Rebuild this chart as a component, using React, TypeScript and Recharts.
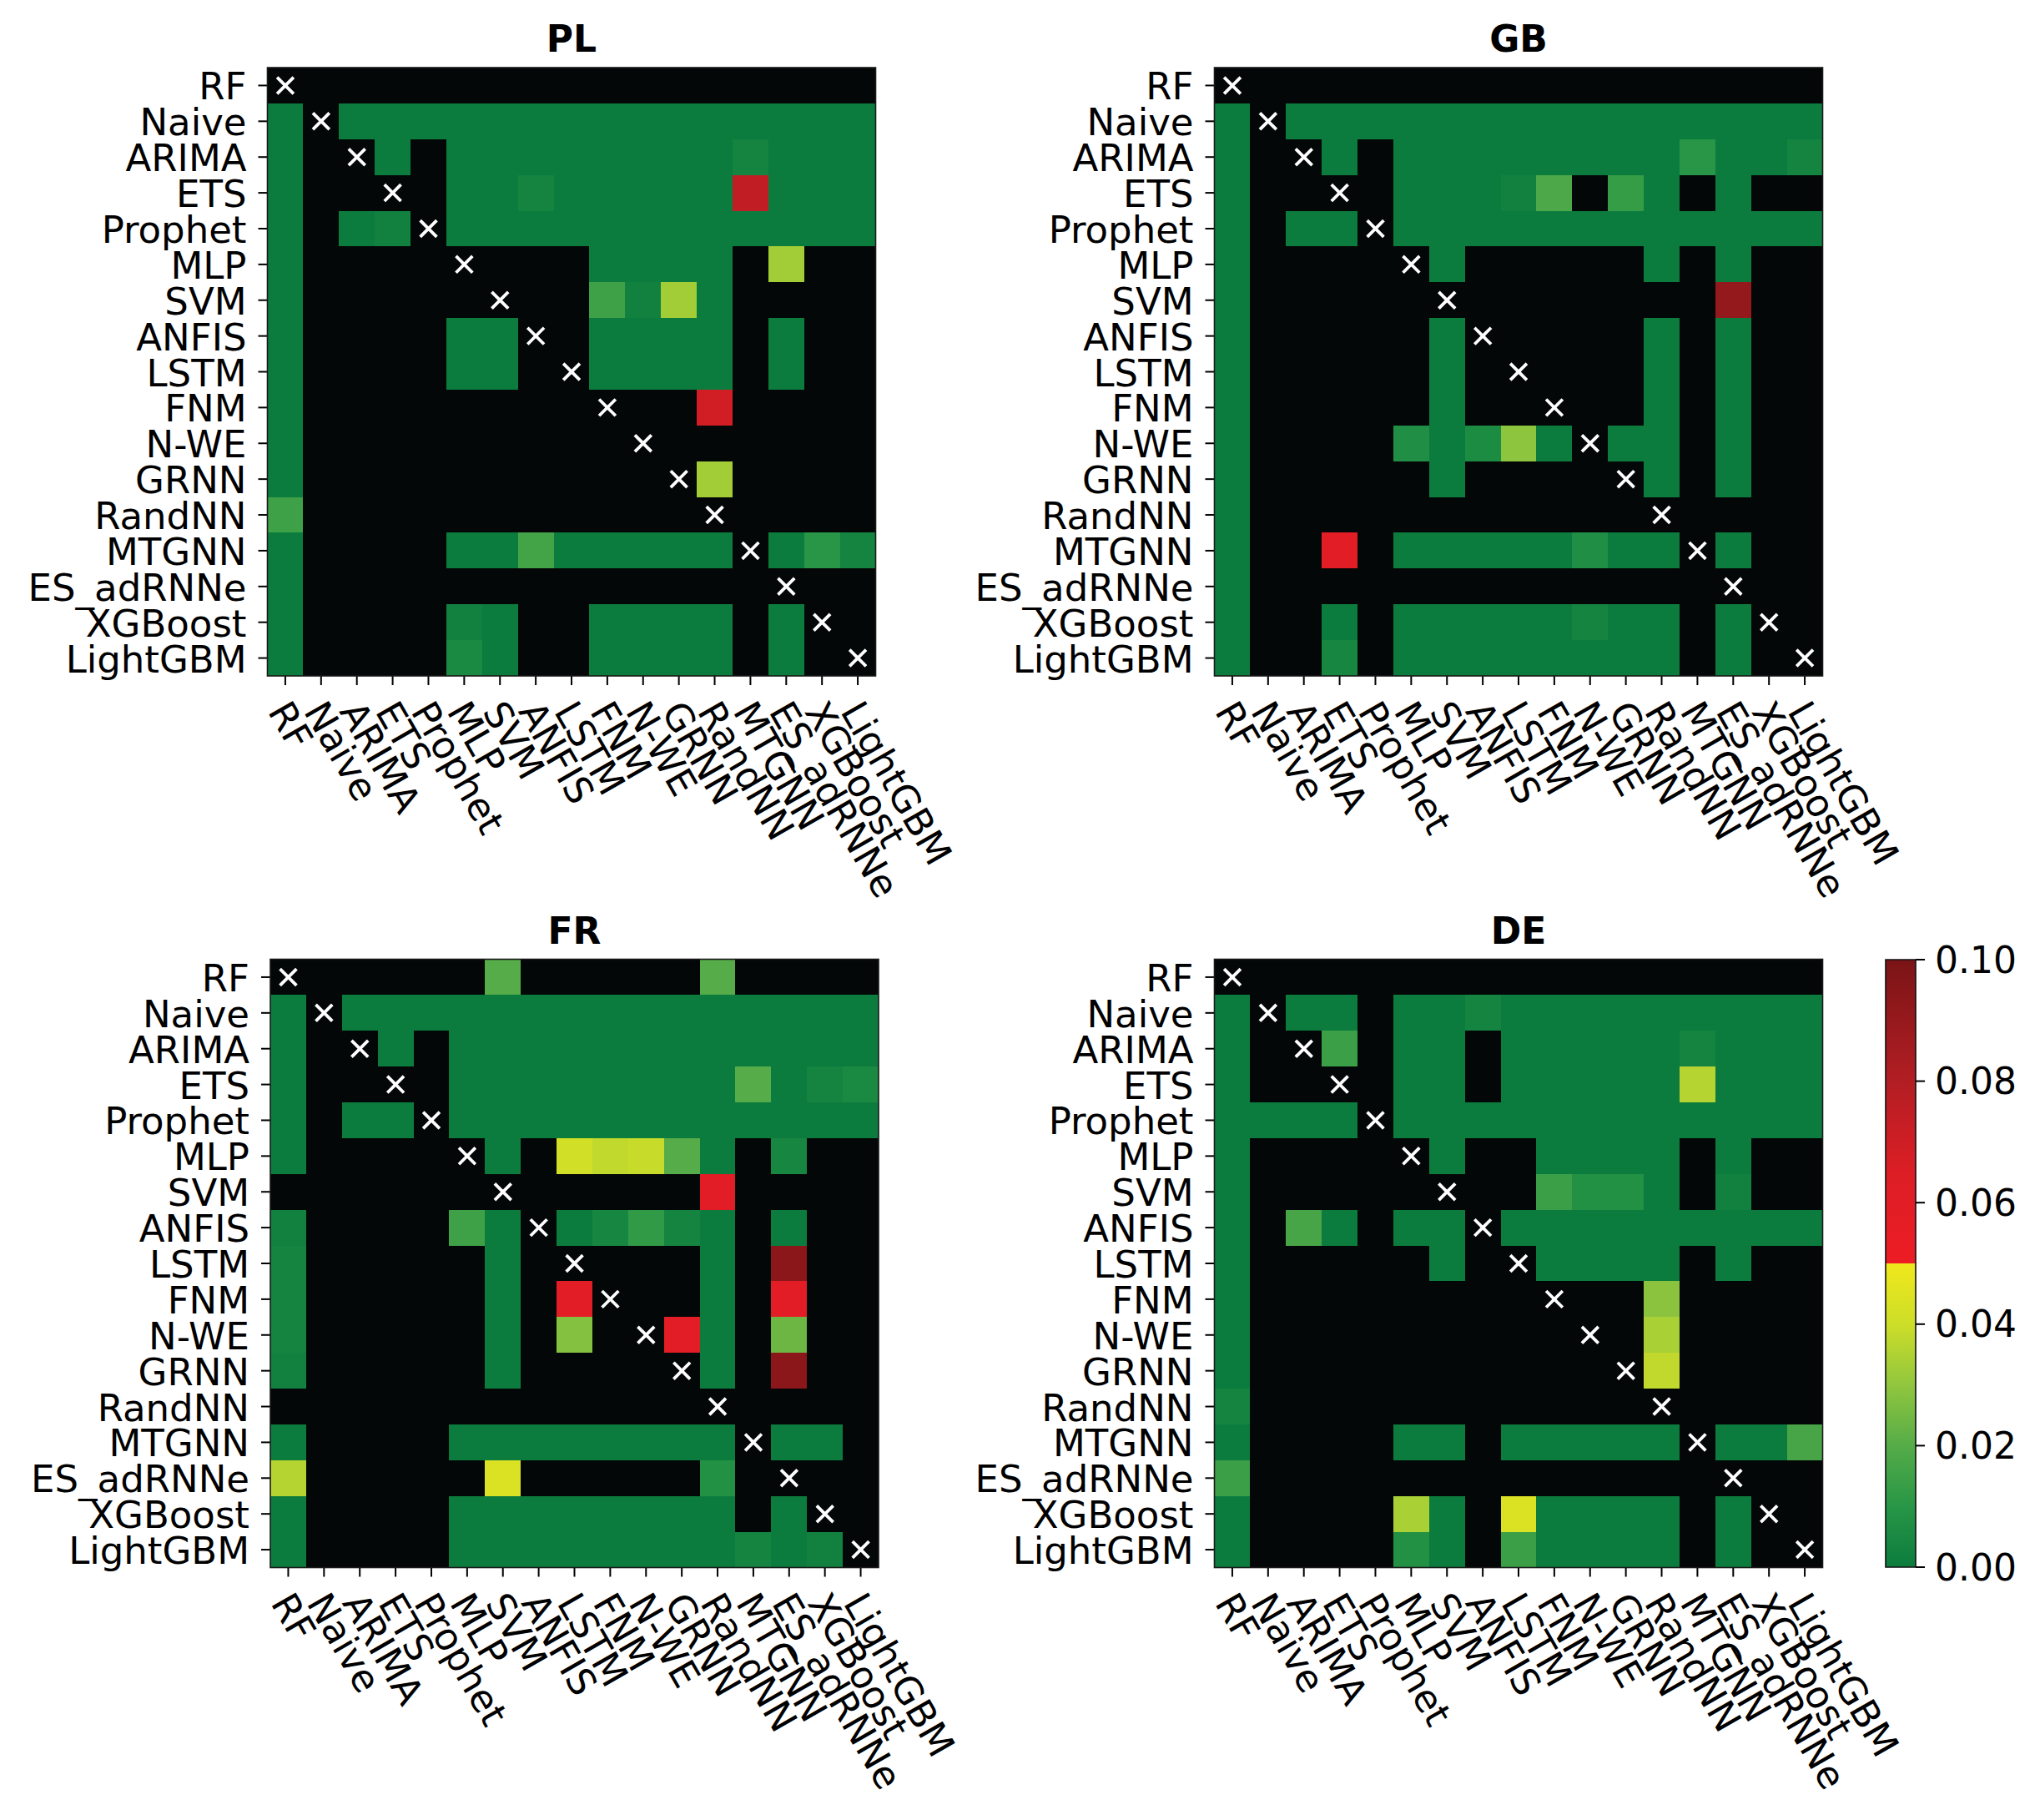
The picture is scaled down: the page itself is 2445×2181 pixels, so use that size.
import React from 'react';
import { BarChart, Bar, XAxis, YAxis } from 'recharts';

// Model names (row / column order of every matrix)
const MODELS = ['RF', 'Naive', 'ARIMA', 'ETS', 'Prophet', 'MLP', 'SVM', 'ANFIS', 'LSTM', 'FNM', 'N-WE', 'GRNN', 'RandNN', 'MTGNN', 'ES_adRNNe', 'XGBoost', 'LightGBM'];

// p-values. NS = not significant (p > 0.10, drawn black), D = diagonal (x)
const NS = 0.5;
const D = null;

const PL_P = [
  [D, NS, NS, NS, NS, NS, NS, NS, NS, NS, NS, NS, NS, NS, NS, NS, NS],
  [0, D, 0, 0, 0, 0, 0, 0, 0, 0, 0, 0, 0, 0, 0, 0, 0],
  [0, NS, D, 0, NS, 0, 0, 0, 0, 0, 0, 0, 0, 0.003, 0, 0, 0],
  [0, NS, NS, D, NS, 0, 0, 0.003, 0, 0, 0, 0, 0, 0.075, 0, 0, 0],
  [0, NS, 0, 0.002, D, 0, 0, 0, 0, 0, 0, 0, 0, 0, 0, 0, 0],
  [0, NS, NS, NS, NS, D, NS, NS, NS, 0, 0, 0, 0, NS, 0.033, NS, NS],
  [0, NS, NS, NS, NS, NS, D, NS, NS, 0.015, 0.002, 0.033, 0, NS, NS, NS, NS],
  [0, NS, NS, NS, NS, 0, 0, D, NS, 0, 0, 0, 0, NS, 0, NS, NS],
  [0, NS, NS, NS, NS, 0, 0, NS, D, 0, 0, 0, 0, NS, 0, NS, NS],
  [0, NS, NS, NS, NS, NS, NS, NS, NS, D, NS, NS, 0.069, NS, NS, NS, NS],
  [0, NS, NS, NS, NS, NS, NS, NS, NS, NS, D, NS, NS, NS, NS, NS, NS],
  [0, NS, NS, NS, NS, NS, NS, NS, NS, NS, NS, D, 0.033, NS, NS, NS, NS],
  [0.015, NS, NS, NS, NS, NS, NS, NS, NS, NS, NS, NS, D, NS, NS, NS, NS],
  [0, NS, NS, NS, NS, 0, 0, 0.016, 0, 0, 0, 0, 0, D, 0, 0.01, 0.003],
  [0, NS, NS, NS, NS, NS, NS, NS, NS, NS, NS, NS, NS, NS, D, NS, NS],
  [0, NS, NS, NS, NS, 0.002, 0, NS, NS, 0, 0, 0, 0, NS, 0, D, NS],
  [0, NS, NS, NS, NS, 0.005, 0, NS, NS, 0, 0, 0, 0, NS, 0, NS, D],
];

const GB_P = [
  [D, NS, NS, NS, NS, NS, NS, NS, NS, NS, NS, NS, NS, NS, NS, NS, NS],
  [0, D, 0, 0, 0, 0, 0, 0, 0, 0, 0, 0, 0, 0, 0, 0, 0],
  [0, NS, D, 0, NS, 0, 0, 0, 0, 0, 0, 0, 0, 0.01, 0, 0, 0.003],
  [0, NS, NS, D, NS, 0, 0, 0, 0.002, 0.018, NS, 0.013, 0, NS, 0, NS, NS],
  [0, NS, 0, 0, D, 0, 0, 0, 0, 0, 0, 0, 0, 0, 0, 0, 0],
  [0, NS, NS, NS, NS, D, 0, NS, NS, NS, NS, NS, 0, NS, 0, NS, NS],
  [0, NS, NS, NS, NS, NS, D, NS, NS, NS, NS, NS, NS, NS, 0.091, NS, NS],
  [0, NS, NS, NS, NS, NS, 0, D, NS, NS, NS, NS, 0, NS, 0, NS, NS],
  [0, NS, NS, NS, NS, NS, 0, NS, D, NS, NS, NS, 0, NS, 0, NS, NS],
  [0, NS, NS, NS, NS, NS, 0, NS, NS, D, NS, NS, 0, NS, 0, NS, NS],
  [0, NS, NS, NS, NS, 0.007, 0, 0.006, 0.0295, 0, D, 0, 0, NS, 0, NS, NS],
  [0, NS, NS, NS, NS, NS, 0, NS, NS, NS, NS, D, 0, NS, 0, NS, NS],
  [0, NS, NS, NS, NS, NS, NS, NS, NS, NS, NS, NS, D, NS, NS, NS, NS],
  [0, NS, NS, 0.059, NS, 0, 0, 0, 0, 0, 0.007, 0, 0, D, 0, NS, NS],
  [0, NS, NS, NS, NS, NS, NS, NS, NS, NS, NS, NS, NS, NS, D, NS, NS],
  [0, NS, NS, 0, NS, 0, 0, 0, 0, 0, 0.003, 0, 0, NS, 0, D, NS],
  [0, NS, NS, 0.004, NS, 0, 0, 0, 0, 0, 0, 0, 0, NS, 0, NS, D],
];

const FR_P = [
  [D, NS, NS, NS, NS, NS, 0.02, NS, NS, NS, NS, NS, 0.02, NS, NS, NS, NS],
  [0, D, 0, 0, 0, 0, 0, 0, 0, 0, 0, 0, 0, 0, 0, 0, 0],
  [0, NS, D, 0, NS, 0, 0, 0, 0, 0, 0, 0, 0, 0, 0, 0, 0],
  [0, NS, NS, D, NS, 0, 0, 0, 0, 0, 0, 0, 0, 0.02, 0, 0.003, 0.005],
  [0, NS, 0, 0, D, 0, 0, 0, 0, 0, 0, 0, 0, 0, 0, 0, 0],
  [0, NS, NS, NS, NS, D, 0, NS, 0.041, 0.038, 0.039, 0.02, 0, NS, 0.004, NS, NS],
  [NS, NS, NS, NS, NS, NS, D, NS, NS, NS, NS, NS, 0.059, NS, NS, NS, NS],
  [0.002, NS, NS, NS, NS, 0.015, 0, D, 0, 0.004, 0.012, 0.003, 0, NS, 0, NS, NS],
  [0.003, NS, NS, NS, NS, NS, 0, NS, D, NS, NS, NS, 0, NS, 0.094, NS, NS],
  [0.003, NS, NS, NS, NS, NS, 0, NS, 0.059, D, NS, NS, 0, NS, 0.059, NS, NS],
  [0.003, NS, NS, NS, NS, NS, 0, NS, 0.028, NS, D, 0.059, 0, NS, 0.024, NS, NS],
  [0.002, NS, NS, NS, NS, NS, 0, NS, NS, NS, NS, D, 0, NS, 0.094, NS, NS],
  [NS, NS, NS, NS, NS, NS, NS, NS, NS, NS, NS, NS, D, NS, NS, NS, NS],
  [0, NS, NS, NS, NS, 0, 0, 0, 0, 0, 0, 0, 0, D, 0, 0, NS],
  [0.036, NS, NS, NS, NS, NS, 0.044, NS, NS, NS, NS, NS, 0.008, NS, D, NS, NS],
  [0, NS, NS, NS, NS, 0, 0, 0, 0, 0, 0, 0, 0, NS, 0, D, NS],
  [0, NS, NS, NS, NS, 0, 0, 0, 0, 0, 0, 0, 0, 0.003, 0, 0.002, D],
];

const DE_P = [
  [D, NS, NS, NS, NS, NS, NS, NS, NS, NS, NS, NS, NS, NS, NS, NS, NS],
  [0, D, 0, 0, NS, 0, 0, 0.003, 0, 0, 0, 0, 0, 0, 0, 0, 0],
  [0, NS, D, 0.014, NS, 0, 0, NS, 0, 0, 0, 0, 0, 0.003, 0, 0, 0],
  [0, NS, NS, D, NS, 0, 0, NS, 0, 0, 0, 0, 0, 0.036, 0, 0, 0],
  [0, 0, 0, 0, D, 0, 0, 0, 0, 0, 0, 0, 0, 0, 0, 0, 0],
  [0, NS, NS, NS, NS, D, 0, NS, NS, 0, 0, 0, 0, NS, 0, NS, NS],
  [0, NS, NS, NS, NS, NS, D, NS, NS, 0.014, 0.008, 0.008, 0, NS, 0.002, NS, NS],
  [0, NS, 0.017, 0, NS, 0, 0, D, 0, 0, 0, 0, 0, 0, 0, 0, 0],
  [0, NS, NS, NS, NS, NS, 0, NS, D, 0, 0, 0, 0, NS, 0, NS, NS],
  [0, NS, NS, NS, NS, NS, NS, NS, NS, D, NS, NS, 0.029, NS, NS, NS, NS],
  [0, NS, NS, NS, NS, NS, NS, NS, NS, NS, D, NS, 0.034, NS, NS, NS, NS],
  [0, NS, NS, NS, NS, NS, NS, NS, NS, NS, NS, D, 0.038, NS, NS, NS, NS],
  [0.003, NS, NS, NS, NS, NS, NS, NS, NS, NS, NS, NS, D, NS, NS, NS, NS],
  [0, NS, NS, NS, NS, 0, 0, NS, 0, 0, 0, 0, 0, D, 0, 0, 0.017],
  [0.014, NS, NS, NS, NS, NS, NS, NS, NS, NS, NS, NS, NS, NS, D, NS, NS],
  [0, NS, NS, NS, NS, 0.034, 0, NS, 0.044, 0, 0, 0, 0, NS, 0, D, NS],
  [0, NS, NS, NS, NS, 0.008, 0, NS, 0.014, 0, 0, 0, 0, NS, 0, NS, D],
];

const TITLES = ['PL', 'GB', 'FR', 'DE'];
const CB_TICKS = [0, 0.02, 0.04, 0.06, 0.08, 0.1];
const CB_DATA = [{ name: 'p', v: 0.1 }];

// colour map: green -> yellow (0..0.05), red -> dark red (0.05..0.10), black above
const GREEN_STOPS: [number, number[]][] = [
  [0, [12, 124, 62]],
  [0.01, [40, 150, 70]],
  [0.02, [85, 172, 72]],
  [0.03, [145, 198, 62]],
  [0.04, [205, 222, 40]],
  [0.05, [240, 232, 28]],
];
const RED_STOPS: [number, number[]][] = [
  [0.05, [237, 28, 36]],
  [0.065, [220, 30, 37]],
  [0.08, [178, 30, 35]],
  [0.1, [122, 20, 22]],
];
const BLACK = '#040707';
const FONT = 'DejaVu Sans';
const FS = 45;

function interp(stops: [number, number[]][], v: number) {
  for (let i = 0; i < stops.length - 1; i++) {
    const [a, ca] = stops[i];
    const [b, cb] = stops[i + 1];
    if (v <= b) {
      const t = Math.max(0, Math.min(1, (v - a) / (b - a)));
      const c = ca.map((x, k) => Math.round(x + (cb[k] - x) * t));
      return `rgb(${c[0]},${c[1]},${c[2]})`;
    }
  }
  const c = stops[stops.length - 1][1];
  return `rgb(${c[0]},${c[1]},${c[2]})`;
}

function cellColor(p: number | null) {
  if (p === null || p > 0.1) return BLACK;
  if (p < 0.05) return interp(GREEN_STOPS, p);
  return interp(RED_STOPS, p);
}

const COLUMN_DATA = MODELS.map((name, col) => {
  const o: any = { name, col };
  MODELS.forEach((m, r) => {
    o['r' + r] = 1;
  });
  return o;
});

const Y_TICKS = MODELS.map((m, i) => i + 0.5);

const makeShape = (grid: (number | null)[][], row: number) => (props: any) => {
  const { x, y, width, height, payload } = props;
  const col = payload.col;
  const v = grid[row][col];
  const yy = height < 0 ? y + height : y;
  const hh = Math.abs(height);
  const cx = x + width / 2;
  const cy = yy + hh / 2;
  const s = width * 0.23;
  return (
    <g>
      <rect x={x} y={yy} width={width} height={hh} fill={cellColor(v)} shapeRendering="crispEdges" />
      {v === null && (
        <g stroke="#ffffff" strokeWidth={3.8}>
          <line x1={cx - s} y1={cy - s} x2={cx + s} y2={cy + s} />
          <line x1={cx - s} y1={cy + s} x2={cx + s} y2={cy - s} />
        </g>
      )}
    </g>
  );
};

const XTick = (props: any) => {
  const { x, y, payload } = props;
  return (
    <text
      transform={`translate(${x},${y}) rotate(60)`}
      x={0}
      y={0}
      dy={25}
      textAnchor="start"
      fontSize={FS}
      fontFamily={FONT}
      fill="#000"
    >
      {payload.value}
    </text>
  );
};

const YTick = (props: any) => {
  const { x, y, payload, tickFormatter } = props;
  const label = tickFormatter ? tickFormatter(payload.value) : payload.value;
  return (
    <text x={x} y={y} dy={17} textAnchor="end" fontSize={FS} fontFamily={FONT} fill="#000">
      {label}
    </text>
  );
};

const PLOT = 729;

type PanelCfg = { grid: (number | null)[][]; title: string; left: number; top: number; width: number; height: number; plotLeft: number; plotTop: number };

const PANELS: PanelCfg[] = [
  { grid: PL_P, title: TITLES[0], left: 0, top: 0, width: 1200, height: 1100, plotLeft: 320.5, plotTop: 81 },
  { grid: GB_P, title: TITLES[1], left: 1120, top: 0, width: 1325, height: 1100, plotLeft: 1455.5, plotTop: 81 },
  { grid: FR_P, title: TITLES[2], left: 0, top: 1100, width: 1200, height: 1081, plotLeft: 324, plotTop: 1149.5 },
  { grid: DE_P, title: TITLES[3], left: 1120, top: 1100, width: 1325, height: 1081, plotLeft: 1455.5, plotTop: 1149.5 },
];

function Heatmap({ cfg }: { cfg: PanelCfg }) {
  const yW = cfg.plotLeft - cfg.left;
  const mTop = cfg.plotTop - cfg.top;
  const mRight = cfg.width - yW - PLOT;
  const xH = cfg.height - mTop - PLOT;
  const fmt = (v: number) => MODELS[Math.floor(v)];
  return (
    <div style={{ position: 'absolute', left: cfg.left, top: cfg.top }}>
      <BarChart
        width={cfg.width}
        height={cfg.height}
        data={COLUMN_DATA}
        margin={{ top: mTop, right: mRight, bottom: 0, left: 0 }}
        barCategoryGap={0}
        barGap={0}
      >
        <XAxis
          dataKey="name"
          type="category"
          interval={0}
          height={xH}
          axisLine={false}
          tickSize={11}
          tickMargin={19}
          tickLine={{ stroke: '#000', strokeWidth: 2 }}
          tick={<XTick />}
        />
        <YAxis
          type="number"
          domain={[0, 17]}
          reversed
          ticks={Y_TICKS}
          interval={0}
          width={yW}
          axisLine={false}
          tickSize={11}
          tickMargin={14}
          tickLine={{ stroke: '#000', strokeWidth: 2 }}
          tickFormatter={fmt}
          tick={<YTick tickFormatter={fmt} />}
          allowDataOverflow
        />
        {MODELS.map((m, r) => (
          <Bar key={m} dataKey={'r' + r} stackId="s" isAnimationActive={false} shape={makeShape(cfg.grid, r)} />
        ))}
      </BarChart>
    </div>
  );
}

function gradientStops() {
  const stops: { off: number; col: string }[] = [];
  GREEN_STOPS.forEach(([v]) => stops.push({ off: v / 0.1, col: interp(GREEN_STOPS, v) }));
  RED_STOPS.forEach(([v]) => stops.push({ off: v / 0.1, col: interp(RED_STOPS, v) }));
  return stops;
}

function ColorBar() {
  const stops = gradientStops();
  const fmt = (v: number) => v.toFixed(2);
  return (
    <div style={{ position: 'absolute', left: 2200, top: 1100 }}>
      <BarChart width={245} height={850} data={CB_DATA} margin={{ top: 50, right: 0, bottom: 72, left: 60 }} barCategoryGap={0}>
        <defs>
          <linearGradient id="cbGrad" x1="0" y1="1" x2="0" y2="0">
            {stops.map((s, i) => (
              <stop key={i} offset={s.off} stopColor={s.col} />
            ))}
          </linearGradient>
        </defs>
        <XAxis dataKey="name" hide />
        <YAxis
          orientation="right"
          type="number"
          domain={[0, 0.1]}
          ticks={CB_TICKS}
          interval={0}
          width={149}
          axisLine={false}
          tickSize={11}
          tickMargin={12}
          tickLine={{ stroke: '#000', strokeWidth: 2 }}
          tickFormatter={fmt}
          tick={{ fontSize: 44, fontFamily: FONT, fill: '#000' }}
        />
        <Bar dataKey="v" fill="url(#cbGrad)" stroke="#111" strokeWidth={1.6} isAnimationActive={false} />
      </BarChart>
    </div>
  );
}

export default function App() {
  return (
    <div style={{ position: 'absolute', left: 0, top: 0, width: 2445, height: 2181, background: '#fff', overflow: 'hidden' }}>
      {PANELS.map((p) => (
        <Heatmap key={p.title} cfg={p} />
      ))}
      <ColorBar />
      <svg width={2445} height={2181} style={{ position: 'absolute', left: 0, top: 0, pointerEvents: 'none' }}>
        {PANELS.map((p) => (
          <g key={p.title}>
            <rect x={p.plotLeft} y={p.plotTop} width={PLOT} height={PLOT} fill="none" stroke="#1a1a1a" strokeWidth={1.6} />
            <text x={p.plotLeft + PLOT / 2} y={p.plotTop - 19} textAnchor="middle" fontSize={44} fontWeight="bold" fontFamily={FONT} fill="#000">
              {p.title}
            </text>
          </g>
        ))}
      </svg>
    </div>
  );
}
